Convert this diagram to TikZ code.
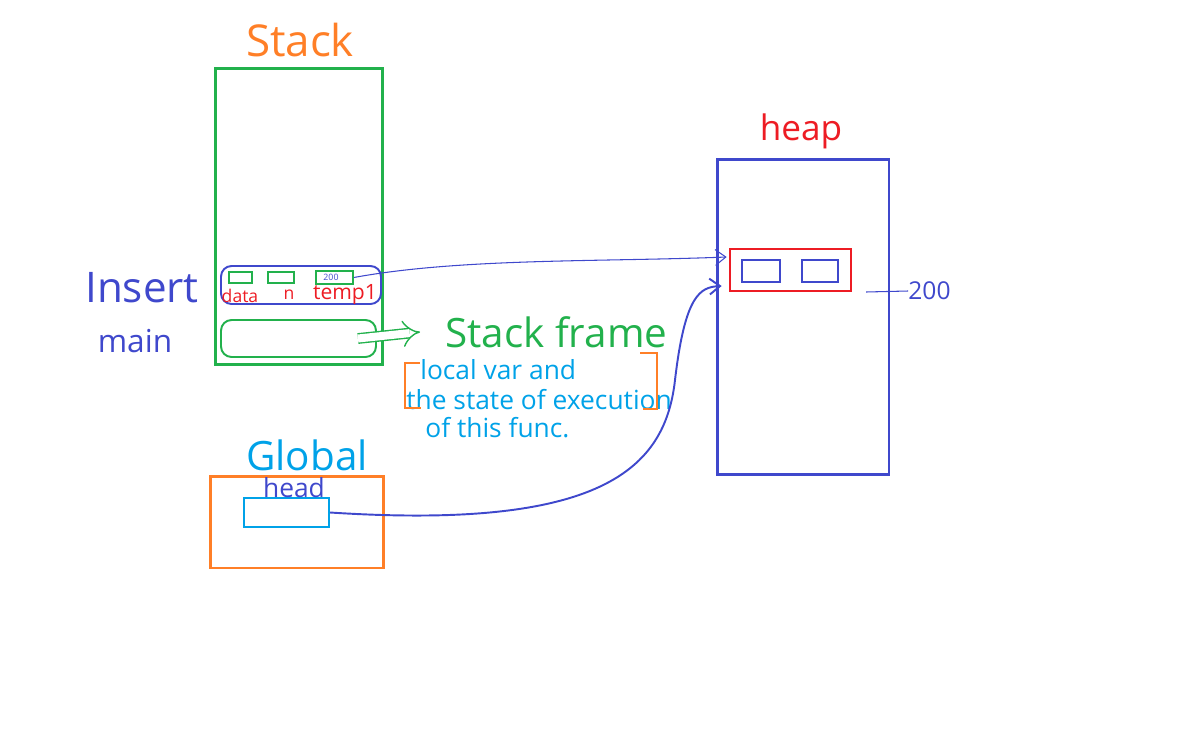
\documentclass[tikz,border=0pt]{standalone}
\usepackage{fontspec}
\setmainfont{Open Sans}
\usepackage{xcolor}
\usepackage{tikz}
\usetikzlibrary{arrows.meta}

\definecolor{pgreen}{HTML}{22B14C}
\definecolor{porange}{HTML}{FF7F27}
\definecolor{pblue}{HTML}{3F48CC}
\definecolor{pred}{HTML}{ED1C24}
\definecolor{pcyan}{HTML}{00A2E8}

\newcommand{\fs}[1]{\fontsize{#1}{#1}\selectfont}

\begin{document}
\begin{tikzpicture}[
    x=0.02cm, y=-0.02cm,
    box/.style={rectangle, draw, line width=1.7pt, inner sep=0pt},
    cell/.style={rectangle, draw, line width=1.3pt, inner sep=0pt},
    frame/.style={rectangle, draw, rounded corners=6pt, line width=1.1pt, inner sep=0pt},
    lbl/.style={inner sep=0pt}
]
    \useasboundingbox (0,0) rectangle (1182,747);

    % Nodes
    \node[box, pgreen, minimum width=3.36cm, minimum height=5.94cm] (stack) at (299,216.5) {};
    \node[lbl, porange, font=\fs{25}] (stacklbl) at (300,40) {Stack};

    \node[frame, pblue, minimum width=3.2cm, minimum height=0.76cm] (tempframe) at (301,285) {};
    \node[cell, pgreen, line width=1pt, minimum width=0.46cm, minimum height=0.22cm] (data) at (240.5,277.5) {};
    \node[cell, pgreen, line width=1pt, minimum width=0.52cm, minimum height=0.22cm] (n) at (281,277.5) {};
    \node[cell, pgreen, line width=1pt, minimum width=0.74cm, minimum height=0.26cm] (temp) at (334.5,277.5) {};
    \node[lbl, pblue, font=\fs{5}] (tempval) at (331,277.5) {200};
    \node[lbl, pred, font=\fs{10}] (datalbl) at (240,296) {data};
    \node[lbl, pred, font=\fs{10}] (nlbl) at (289,295) {n};
    \node[lbl, pred, font=\fs{12}] (templbl) at (345,295) {temp1};

    \node[frame, pgreen, minimum width=3.1cm, minimum height=0.74cm] (mainframe) at (298.5,338.5) {};
    \node[lbl, pblue, font=\fs{24}] (insert) at (142,288) {Insert};
    \node[lbl, pblue, font=\fs{18}] (main) at (135,341) {main};

    \node[lbl, pgreen, font=\fs{23}, anchor=west] (sflbl) at (445,332) {Stack frame};
    \node[lbl, pcyan, font=\fs{15}, anchor=west] (desc1) at (420,370) {local var and};
    \node[lbl, pcyan, font=\fs{15}, anchor=west] (desc2) at (406,400) {the state of execution};
    \node[lbl, pcyan, font=\fs{15}, anchor=west] (desc3) at (425,428) {of this func.};

    \node[box, porange, minimum width=3.48cm, minimum height=1.84cm] (global) at (297,522) {};
    \node[lbl, pcyan, font=\fs{23}] (globallbl) at (307,455) {Global};
    \node[cell, pcyan, minimum width=1.7cm, minimum height=0.58cm] (head) at (286.5,512.5) {};
    \node[lbl, pblue, font=\fs{15}] (headlbl) at (294,488) {head};

    \node[box, pblue, minimum width=3.44cm, minimum height=6.32cm] (heap) at (803,317) {};
    \node[lbl, pred, font=\fs{20}] (heaplbl) at (801,131) {heap};
    \node[box, pred, line width=1.5pt, minimum width=2.42cm, minimum height=0.84cm] (obj) at (790.5,270) {};
    \node[cell, pblue, minimum width=0.76cm, minimum height=0.44cm] (field1) at (761,271) {};
    \node[cell, pblue, minimum width=0.72cm, minimum height=0.44cm] (field2) at (820,271) {};
    \node[lbl, pblue, font=\fs{14}, anchor=west] (addr) at (908,291) {200};
    \coordinate (tick) at (866,292);

    % Brackets round the description
    \draw[porange, line width=0.6pt] (420,363) -- (405,363) -- (405,408) -- (421,408);
    \draw[porange, line width=0.6pt] (640,353) -- (657,353) -- (657,409) -- (643,409);

    % Arrows
    \draw[pblue, line width=0.6pt, -{Straight Barb[length=6pt, width=9pt]}]
        (temp.east) .. controls (460,258) and (600,262) .. ([xshift=-0.04cm, yshift=0.26cm]obj.west);
    \draw[pblue, line width=1.1pt, -{Straight Barb[length=6pt, width=9pt]}]
        (head.east) .. controls (600,530) and (665,470) .. (675,380)
        .. controls (685,295) and (700,287) .. ([xshift=-0.14cm, yshift=-0.32cm]obj.west);
    \draw[pgreen, line width=0.8pt, double distance=0.16cm, -{Implies[length=8pt]}]
        ([xshift=-0.38cm]mainframe.east) -- ([xshift=-0.5cm]sflbl.west);
    \draw[pblue, line width=0.6pt] (tick) -- (addr.west);
\end{tikzpicture}
\end{document}
